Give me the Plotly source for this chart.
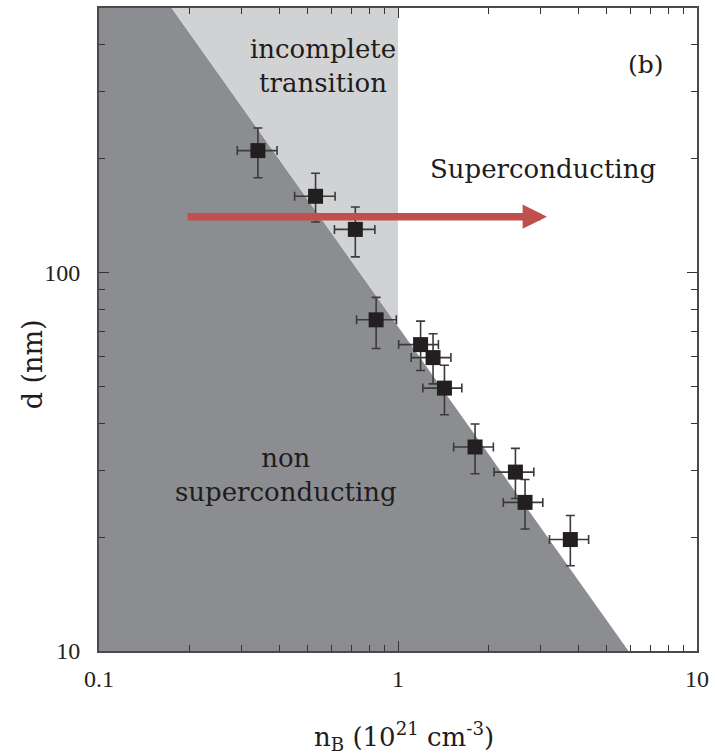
import numpy as np
import plotly.graph_objects as go

# ---- data ----
n_B = [0.34, 0.53, 0.72, 0.845, 1.19, 1.31, 1.43, 1.81, 2.47, 2.66, 3.77]
d_nm = [210, 159, 130, 75, 64.5, 59.6, 49.5, 34.6, 29.7, 24.7, 19.7]
d_hi = [241, 183, 149, 86, 74.4, 68.9, 56.9, 39.8, 34.3, 28.4, 22.8]
d_lo = [178, 136, 110, 63, 55.1, 50.8, 42.1, 29.4, 25.3, 21.0, 16.8]
n_lo = [0.29, 0.451, 0.613, 0.727, 1.005, 1.107, 1.211, 1.535, 2.094, 2.25, 3.21]
n_hi = [0.394, 0.616, 0.837, 0.987, 1.365, 1.503, 1.635, 2.084, 2.846, 3.05, 4.34]

# boundary line between non-superconducting and superconducting
boundary_n = [0.175, 5.9]
boundary_d = [500, 10]
incomplete_limit_n = 1.0

x_range = [0.1, 10]
y_range = [10, 500]

arrow_n = [0.1956, 3.15]
arrow_d = 140.5

x_tickvals = [0.1, 1, 10]
x_ticktext = ["0.1", "1", "10"]
y_tickvals = [10, 100]
y_ticktext = ["10", "100"]
x_minor = [0.2, 0.3, 0.4, 0.5, 0.6, 0.7, 0.8, 0.9, 2, 3, 4, 5, 6, 7, 8, 9]
y_minor = [20, 30, 40, 50, 60, 70, 80, 90, 200, 300, 400]

# ---- derived ----
ln = np.log10(boundary_n)
ld = np.log10(boundary_d)
slope = (ld[1] - ld[0]) / (ln[1] - ln[0])
d_at_limit = 10 ** (ld[0] + slope * (np.log10(incomplete_limit_n) - ln[0]))

DARK = "#8c8d91"
LIGHT = "#d1d2d4"
TXT = "#1e1c1d"
SERIF = "DejaVu Serif"

fig = go.Figure()

# dark region (non superconducting)
fig.add_trace(go.Scatter(
    x=[x_range[0], x_range[0], boundary_n[0], boundary_n[1], x_range[0]],
    y=[y_range[0], y_range[1], boundary_d[0], boundary_d[1], y_range[0]],
    fill="toself", fillcolor=DARK, line=dict(width=0), mode="lines",
    hoverinfo="skip", showlegend=False))

# light region (incomplete transition)
fig.add_trace(go.Scatter(
    x=[boundary_n[0], incomplete_limit_n, incomplete_limit_n, boundary_n[0]],
    y=[boundary_d[0], d_at_limit, y_range[1], boundary_d[0]],
    fill="toself", fillcolor=LIGHT, line=dict(width=0), mode="lines",
    hoverinfo="skip", showlegend=False))

# data points with asymmetric error bars
fig.add_trace(go.Scatter(
    x=n_B, y=d_nm, mode="markers",
    marker=dict(symbol="square", size=15, color="#231f20"),
    error_y=dict(type="data", symmetric=False,
                 array=[h - v for h, v in zip(d_hi, d_nm)],
                 arrayminus=[v - l for l, v in zip(d_lo, d_nm)],
                 color="#3a3a3a", thickness=1.6, width=4.5),
    error_x=dict(type="data", symmetric=False,
                 array=[h - v for h, v in zip(n_hi, n_B)],
                 arrayminus=[v - l for l, v in zip(n_lo, n_B)],
                 color="#3a3a3a", thickness=1.6, width=4.5),
    showlegend=False))

W, H = 715, 754
L, R, T, B = 99, 14, 6, 103
pw, ph = W - L - R, H - T - B


def px2paper(px, py):
    return (px - L) / pw, (H - B - py) / ph


annots = []


def add_text(text, px, py, size=26, **kw):
    xp, yp = px2paper(px, py)
    d = dict(text=text, x=xp, y=yp, xref="paper", yref="paper",
             showarrow=False, xanchor="center", yanchor="middle",
             font=dict(family=SERIF, size=size, color=TXT))
    d.update(kw)
    annots.append(d)


add_text("incomplete<br>transition", 324, 64)
add_text("Superconducting", 546, 168)
add_text("non<br>superconducting", 287, 474)
add_text("(b)", 650, 63, size=25)
add_text("d (nm)", 32, 363, size=27, textangle=-90)
add_text("n<sub>B</sub> (10<sup>21</sup> cm<sup>-3</sup>)", 406, 737, size=26)

# arrow
annots.append(dict(
    x=np.log10(arrow_n[1]), y=np.log10(arrow_d), xref="x", yref="y",
    ax=np.log10(arrow_n[0]), ay=np.log10(arrow_d), axref="x", ayref="y",
    showarrow=True, arrowhead=2, arrowsize=0.65, arrowwidth=7.5,
    arrowcolor="#c0504d", text=""))

axis_common = dict(
    type="log", showgrid=False, zeroline=False,
    showline=True, linecolor="#4a4a4a", linewidth=2, mirror="allticks",
    ticks="inside", ticklen=10, tickwidth=1.3, tickcolor="#333333",
    tickfont=dict(family="Liberation Serif", size=24, color="#222222"),
)

fig.update_layout(
    width=W, height=H,
    margin=dict(l=L, r=R, t=T, b=B),
    paper_bgcolor="white", plot_bgcolor="white",
    xaxis=dict(range=[np.log10(x_range[0]), np.log10(x_range[1])],
               tickvals=x_tickvals, ticktext=x_ticktext,
               ticklabelstandoff=5,
               minor=dict(tickvals=x_minor, ticks="inside", ticklen=6,
                          tickwidth=1.2, tickcolor="#333333"),
               **axis_common),
    yaxis=dict(range=[np.log10(y_range[0]), np.log10(y_range[1])],
               tickvals=y_tickvals, ticktext=y_ticktext,
               ticklabelstandoff=12,
               minor=dict(tickvals=y_minor, ticks="inside", ticklen=6,
                          tickwidth=1.2, tickcolor="#333333"),
               **axis_common),
    annotations=annots,
    showlegend=False,
)

fig.write_html("out.html")
